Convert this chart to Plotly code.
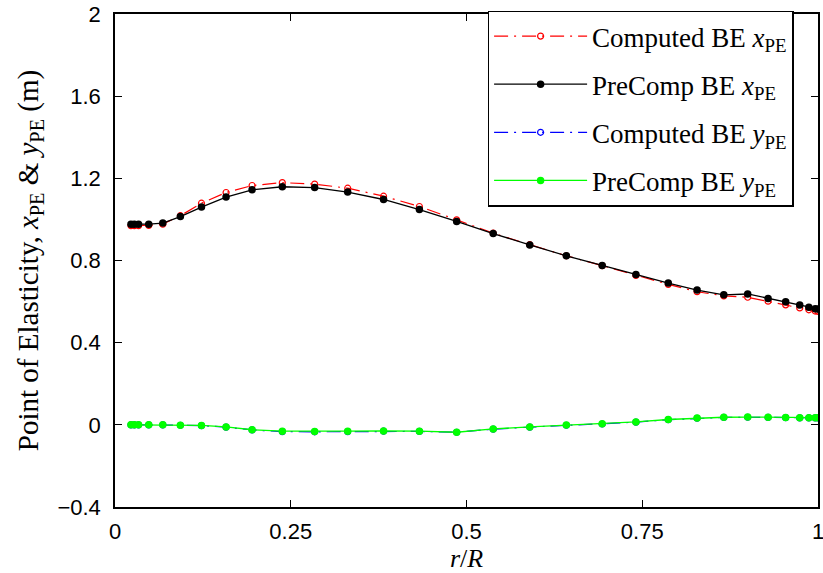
import plotly.graph_objects as go

# Blade stations (non-dimensional radius r/R)
r_over_R = [0.0227, 0.0275, 0.0335, 0.048, 0.068, 0.093, 0.123, 0.158, 0.195, 0.238,
            0.284, 0.331, 0.382, 0.433, 0.486, 0.538, 0.590, 0.642, 0.693, 0.741,
            0.787, 0.828, 0.866, 0.900, 0.929, 0.954, 0.974, 0.987, 0.996, 1.0]

# Point of elasticity, chordwise (x) and flapwise (y) offsets in metres
computed_x_pe = [0.970, 0.970, 0.970, 0.971, 0.977, 1.018, 1.079, 1.131, 1.165, 1.179,
                 1.172, 1.152, 1.113, 1.063, 0.998, 0.933, 0.877, 0.823, 0.775, 0.727,
                 0.684, 0.648, 0.628, 0.621, 0.602, 0.584, 0.569, 0.560, 0.554, 0.552]
precomp_x_pe = [0.977, 0.977, 0.977, 0.977, 0.982, 1.014, 1.060, 1.109, 1.144, 1.159,
                1.155, 1.133, 1.097, 1.048, 0.990, 0.931, 0.876, 0.823, 0.776, 0.732,
                0.690, 0.656, 0.633, 0.637, 0.615, 0.599, 0.583, 0.572, 0.565, 0.564]
computed_y_pe = [0.000, 0.000, 0.000, 0.000, 0.000, -0.002, -0.004, -0.011, -0.025, -0.033,
                 -0.034, -0.033, -0.031, -0.032, -0.036, -0.021, -0.011, -0.002, 0.004, 0.013,
                 0.025, 0.032, 0.036, 0.037, 0.036, 0.035, 0.034, 0.034, 0.034, 0.034]
precomp_y_pe = [0.000, 0.000, 0.000, 0.000, 0.000, -0.002, -0.003, -0.010, -0.024, -0.031,
                -0.032, -0.031, -0.030, -0.031, -0.036, -0.020, -0.010, -0.001, 0.005, 0.014,
                0.026, 0.033, 0.037, 0.038, 0.037, 0.036, 0.035, 0.035, 0.035, 0.035]

x_ticks = [0, 0.25, 0.5, 0.75, 1]
x_tick_text = ["0", "0.25", "0.5", "0.75", "1"]
y_ticks = [-0.4, 0, 0.4, 0.8, 1.2, 1.6, 2]
y_tick_text = ["\u22120.4", "0", "0.4", "0.8", "1.2", "1.6", "2"]

SERIF = "Liberation Serif, Times New Roman, serif"
SANS = "Liberation Sans, Arial, sans-serif"
DASHDOT = "14px,6px,2px,6px"

fig = go.Figure()
fig.add_trace(go.Scatter(
    x=r_over_R, y=computed_x_pe, mode="lines+markers", name="Computed BE <i>x</i><sub>PE</sub>",
    line=dict(color="#ff0000", width=1.2, dash=DASHDOT),
    marker=dict(symbol="circle-open", size=6, color="#ff0000", line=dict(width=1.2)),
    legendgroup="a"))
fig.add_trace(go.Scatter(
    x=r_over_R, y=precomp_x_pe, mode="lines+markers", name="PreComp BE <i>x</i><sub>PE</sub>",
    line=dict(color="#000000", width=1.3),
    marker=dict(symbol="circle", size=7.5, color="#000000"),
    legendgroup="b"))
fig.add_trace(go.Scatter(
    x=r_over_R, y=computed_y_pe, mode="lines+markers", name="Computed BE <i>y</i><sub>PE</sub>",
    line=dict(color="#0000ff", width=1.2, dash=DASHDOT),
    marker=dict(symbol="circle-open", size=6, color="#0000ff", line=dict(width=1.2)),
    legendgroup="c"))
fig.add_trace(go.Scatter(
    x=r_over_R, y=precomp_y_pe, mode="lines+markers", name="PreComp BE <i>y</i><sub>PE</sub>",
    line=dict(color="#00ff00", width=1.3),
    marker=dict(symbol="circle", size=7.5, color="#00ff00"),
    legendgroup="d"))

axis_common = dict(
    showline=True, linecolor="black", linewidth=1.5, mirror="ticks",
    ticks="inside", ticklen=7, tickwidth=1, tickcolor="black",
    showgrid=False, zeroline=False,
    tickfont=dict(family=SANS, size=22, color="black"),
)

fig.update_xaxes(
    range=[0, 1], tickvals=x_ticks, ticktext=x_tick_text,
    title=dict(text="<i>r</i>/<i>R</i>", standoff=2,
               font=dict(family=SERIF, size=26, color="black")),
    ticklabelstandoff=4, ticklabeloverflow="allow",
    **axis_common)
fig.update_yaxes(
    range=[-0.4, 2], tickvals=y_ticks, ticktext=y_tick_text,
    title=dict(text="Point of Elasticity, <i>x</i><sub>PE</sub> &amp; <i>y</i><sub>PE</sub> (m)",
               standoff=10,
               font=dict(family=SERIF, size=29, color="black")),
    ticklabelstandoff=8,
    **axis_common)

fig.update_layout(
    width=823, height=573,
    margin=dict(l=115, r=5, t=14, b=66, autoexpand=False),
    paper_bgcolor="white", plot_bgcolor="white",
    legend=dict(
        x=0.530, y=1.007, xanchor="left", yanchor="top",
        bgcolor="white", bordercolor="black", borderwidth=1.5,
        font=dict(family=SERIF, size=27, color="black"),
        tracegroupgap=10, itemwidth=93,
    ),
    showlegend=True,
)

fig.write_html("out.html")
